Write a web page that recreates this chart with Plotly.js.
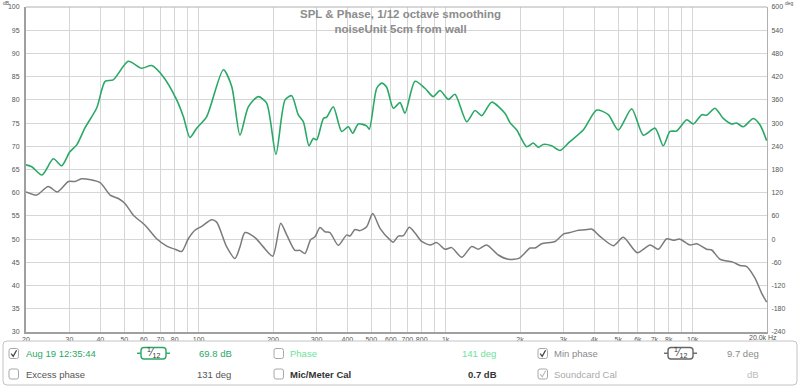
<!DOCTYPE html>
<html><head><meta charset="utf-8">
<script src="https://cdn.plot.ly/plotly-3.0.1.min.js"></script>
<style>html,body{margin:0;padding:0;background:#fff;} #chart{width:800px;height:387px;}</style>
</head><body><div id="chart"></div>
<script>
// ---- data ----
const splFreq = [20,21.1,23.2,25.8,27.9,30.1,32.1,34.7,38.7,41.8,45.1,51.9,58.8,64.5,71.9,81.5,86.7,92.2,98.2,107.8,125.9,136.1,147,158.9,174.3,188.5,205.6,223.8,238.1,253,265.3,279.8,291,300.6,320,329.9,350.9,379.4,403.6,420.6,442.9,478.8,490.9,526,551,577,614,653.5,684.5,751.5,824.5,891.4,948.6,1026,1091,1217,1315,1400,1536,1738,1822,1940,2128,2264,2372,2485,2687,2904,3184,3605,4090,4555,4999,5665,6313,7045,7607,8097,8614,9460,10068,10889,11406,12310,13305,14390,15070,16030,17600,18750,19940];
const splDb = [66.0,65.6,63.8,67.3,65.8,68.8,70.3,74.0,78.3,84.0,84.3,88.3,86.8,87.4,85.0,80.0,76.4,71.9,73.9,76.4,86.5,82.9,72.4,78.5,80.7,79.3,68.3,80.0,80.9,76.8,75.3,70.1,71.7,71.4,76.0,76.3,78.5,73.2,74.2,72.8,74.8,74.4,73.7,82.5,83.6,82.7,78.2,79.4,77.1,84.0,82.5,80.7,82.0,80.1,81.2,75.3,77.7,76.6,79.5,77.1,75.1,73.5,69.9,70.7,69.8,70.4,70.1,69.1,71.0,73.5,77.8,76.8,73.5,78.1,72.4,73.9,70.1,73.2,73.3,75.7,74.8,76.8,76.7,78.2,76.0,74.8,75.0,74.2,76.0,74.6,71.2];
const phaseFreq = [20,22.1,24.6,26.8,29.7,31.6,33.6,39.9,43.8,47.3,50.3,54.4,60.7,67.6,74.3,80.2,85.4,90.8,96.6,102.9,112.9,118.3,129.9,140.4,147,154,169.1,182.7,199.5,214.9,227.3,245.5,257.2,269.5,284.2,295.8,309.9,324.7,340.2,367.6,397.5,410,429.5,450,479,506.5,542.4,595.4,613.9,643.2,674.4,712.7,751.5,799.8,864.3,920.1,994.2,1058,1162,1275,1356,1466,1634,1793,1987,2196,2300,2448,2772,2995,3184,3394,3667,3903,4217,4774,5239,5969,6722,7262,7852,8348,8888,9756,10386,11401,11945,12906,14611,15551,16553,17884,19037,19940];
const phaseDeg = [122,114,136,122,149,149,156,146,114,105,92,62,36,1,-18,-26,-32,1,23,33,50,44,-20,-50,-20,17,4,-20,-44,41,11,-29,-29,-37,-1,6,30,19,17,-16,11,8,25,22,32,66,28,-2,-8,8,9,31,16,-6,-15,-9,-26,-22,-47,-19,-26,-15,-41,-52,-49,-23,-23,-12,-6,13,17,22,24,26,7,-17,5,-35,-15,-26,1,-3,0,-15,-12,-26,-28,-52,-60,-68,-71,-101,-140,-163];
const xTickVals = [20,30,40,50,60,70,80,100,200,300,400,500,600,700,800,1000,2000,3000,4000,5000,6000,7000,8000,10000];
const xTickText = ['20','30','40','50','60','70','80','100','200','300','400','500','600','700','800','1k','2k','3k','4k','5k','6k','7k','8k','10k'];
const xGridOnly = [90,900,9000];
const dbTicks = [30,35,40,45,50,55,60,65,70,75,80,85,90,95,100];
const degTicks = [-240,-180,-120,-60,0,60,120,180,240,300,360,420,480,540,600];
const degTickText = ['-240','-180','-120','-60','0','60','120','180','240','300','360','420','480','540','600'];

// ---- pixel helpers for panel decorations ----
const L = 26, R = 33, T = 7, B = 55, W = 800, H = 387;
const PW = W - L - R, PH = H - T - B;
const px = X => (X - L) / PW;
const py = Y => (H - B - Y) / PH;
const FONT = 'Liberation Sans, Arial, sans-serif';

const shapes = [];
const annotations = [];
function rrect(x0, y0, x1, y1, r, color, width, fill) {
  const p = `M${px(x0 + r)},${py(y0)} L${px(x1 - r)},${py(y0)} Q${px(x1)},${py(y0)} ${px(x1)},${py(y0 + r)} L${px(x1)},${py(y1 - r)} Q${px(x1)},${py(y1)} ${px(x1 - r)},${py(y1)} L${px(x0 + r)},${py(y1)} Q${px(x0)},${py(y1)} ${px(x0)},${py(y1 - r)} L${px(x0)},${py(y0 + r)} Q${px(x0)},${py(y0)} ${px(x0 + r)},${py(y0)} Z`;
  shapes.push({type: 'path', xref: 'paper', yref: 'paper', path: p, line: {color, width}, fillcolor: fill || 'rgba(0,0,0,0)'});
}
function line(x0, y0, x1, y1, color, width) {
  shapes.push({type: 'line', xref: 'paper', yref: 'paper', x0: px(x0), y0: py(y0), x1: px(x1), y1: py(y1), line: {color, width}});
}
function checkbox(x0, y0, checked, markColor) {
  rrect(x0, y0, x0 + 9.5, y0 + 10, 2, '#a8a8a8', 1, '#fff');
  if (checked) {
    const p = `M${px(x0 + 2.2)},${py(y0 + 5.2)} L${px(x0 + 4.2)},${py(y0 + 7.8)} L${px(x0 + 7.6)},${py(y0 + 1.8)}`;
    shapes.push({type: 'path', xref: 'paper', yref: 'paper', path: p, line: {color: markColor, width: 1.3}});
  }
}
function text(t, X, Y, anchor, color, size, bold) {
  annotations.push({text: bold ? '<b>' + t + '</b>' : t, xref: 'paper', yref: 'paper', x: px(X), y: py(Y),
    xanchor: anchor, yanchor: 'middle', showarrow: false, borderpad: 0,
    font: {family: FONT, size: size || 9.5, color}});
}
function smoothIcon(x0, y0, color) {
  rrect(x0 + 4, y0, x0 + 29, y0 + 11.5, 3, color, 1.4);
  line(x0, y0 + 5.75, x0 + 4, y0 + 5.75, color, 1.4);
  line(x0 + 29, y0 + 5.75, x0 + 33, y0 + 5.75, color, 1.4);
  annotations.push({text: '<sup>1</sup>⁄<sub>12</sub>', xref: 'paper', yref: 'paper', x: px(x0 + 16.5), y: py(y0 + 5.5),
    xanchor: 'center', yanchor: 'middle', showarrow: false, borderpad: 0,
    font: {family: FONT, size: 10, color: '#333'}});
}

// panel
rrect(3, 341, 797, 385, 4, '#c4c4c4', 1, '#fff');
const G = '#2aa866', LG = '#6ee39b';
checkbox(9, 348.5, true, '#444');
text('Aug 19 12:35:44', 25, 353.5, 'left', G);
smoothIcon(137, 347.5, G);
text('69.8 dB', 233, 353.5, 'right', G);
checkbox(274, 348.5, false);
text('Phase', 289, 353.5, 'left', LG);
text('141 deg', 497, 353.5, 'right', LG);
checkbox(538, 348.5, true, '#444');
text('Min phase', 553, 353.5, 'left', '#8a8a8a');
smoothIcon(664, 347.5, '#666');
text('9.7 deg', 760, 353.5, 'right', '#8a8a8a');
checkbox(9, 369, false);
text('Excess phase', 25, 374, 'left', '#555');
text('131 deg', 232, 374, 'right', '#555');
checkbox(274, 369, false);
text('Mic/Meter Cal', 289, 374, 'left', '#333', 9.5, true);
text('0.7 dB', 498, 374, 'right', '#333', 9.5, true);
checkbox(538, 369, true, '#c0c0c0');
text('Soundcard Cal', 553, 374, 'left', '#aaaaaa');
text('dB', 760, 374, 'right', '#bbbbbb');

// titles & unit labels
annotations.push({text: '<b>SPL & Phase, 1/12 octave smoothing</b><br><b>noiseUnit 5cm from wall</b>', xref: 'paper', yref: 'paper', x: px(400), y: py(21),
  xanchor: 'center', yanchor: 'middle', align: 'center', showarrow: false, borderpad: 0, font: {family: FONT, size: 11.5, color: '#8c8c8c'}});
annotations.push({text: 'dB', xref: 'paper', yref: 'paper', x: px(6), y: py(3), xanchor: 'center', yanchor: 'middle', showarrow: false, borderpad: 0,
  font: {family: FONT, size: 5, color: '#555'}});
annotations.push({text: 'deg', xref: 'paper', yref: 'paper', x: px(789), y: py(3), xanchor: 'center', yanchor: 'middle', showarrow: false, borderpad: 0,
  font: {family: FONT, size: 5, color: '#555'}});
annotations.push({text: '20.0k Hz', xref: 'paper', yref: 'paper', x: px(778), y: py(337.5), xanchor: 'right', yanchor: 'middle', showarrow: false, borderpad: 0,
  font: {family: FONT, size: 7, color: '#555'}});

const tickFont = {family: FONT, size: 7, color: '#555'};
const traces = [
  {x: phaseFreq, y: phaseDeg, yaxis: 'y2', type: 'scatter', mode: 'lines', line: {color: '#7b7b7b', width: 1.5, shape: 'spline', smoothing: 0.7}, hoverinfo: 'skip'},
  {x: splFreq, y: splDb, type: 'scatter', mode: 'lines', line: {color: '#2aa866', width: 1.6, shape: 'spline', smoothing: 0.7}, hoverinfo: 'skip'}
];
const layout = {
  width: W, height: H, margin: {l: L, r: R, t: T, b: B, pad: 0},
  paper_bgcolor: '#fff', plot_bgcolor: '#fff', showlegend: false,
  xaxis: {type: 'log', range: [Math.log10(20), Math.log10(20000)], tickmode: 'array', tickvals: xTickVals, ticktext: xTickText,
    showgrid: true, gridcolor: '#d6d6d6', gridwidth: 1, zeroline: false, showline: true, linecolor: '#a0a0a0', linewidth: 2, mirror: false,
    ticks: '', tickfont: tickFont, ticklabelstandoff: 0,
    minor: {tickmode: 'array', tickvals: xGridOnly, showgrid: true, gridcolor: '#d6d6d6', gridwidth: 1, ticks: ''}},
  yaxis: {range: [30, 100], tickmode: 'array', tickvals: dbTicks, showgrid: true, gridcolor: '#d6d6d6', gridwidth: 1, zeroline: false,
    showline: true, linecolor: '#a0a0a0', linewidth: 2, ticks: '', tickfont: tickFont, ticklabelstandoff: 3},
  yaxis2: {range: [-240, 600], overlaying: 'y', side: 'right', tickmode: 'array', tickvals: degTicks, ticktext: degTickText,
    showgrid: false, zeroline: false, showline: true, linecolor: '#b0b0b0', linewidth: 1, ticks: '', tickfont: tickFont, ticklabelstandoff: 2},
  shapes: shapes.concat([{type: 'line', xref: 'paper', yref: 'paper', x0: 0, x1: 1, y0: 1, y1: 1, line: {color: '#b0b0b0', width: 1}}]),
  annotations
};
Plotly.newPlot('chart', traces, layout, {staticPlot: true, displayModeBar: false});
</script>
</body></html>
